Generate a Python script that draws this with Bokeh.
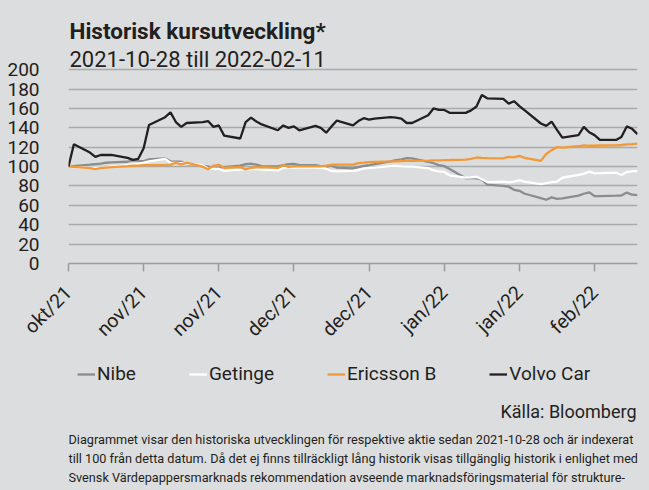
import math
import pandas as pd
from bokeh.plotting import figure
from bokeh.layouts import column
from bokeh.models import (ColumnDataSource, Range1d, FixedTicker, Label,
                          Legend, LegendItem)
from bokeh.embed import file_html
from bokeh.resources import INLINE

# ---------------- data ----------------
dates = pd.bdate_range("2021-10-28", "2022-02-11")  # 77 trading days

nibe = [100, 100.5, 102, 102.6, 103, 104, 104.3, 105, 106.5, 106,
        105.7, 107.5, 108.4, 105.5, 105, 105, 102.5, 101, 100, 97.5,
        99, 99.5, 101, 102.5, 103, 102, 100.5, 100.2, 101.5, 102.5,
        102.8, 101.5, 101.5, 100.5, 100, 100.9, 98.9, 98.2, 99.5, 100.8,
        101.6, 102.5, 105.5, 106.7, 107.5, 108.8, 108.4, 105, 103.5, 101.5,
        100.5, 97.5, 88, 88.5, 88, 86.5, 81.5, 80.2, 79.3, 76,
        75, 72, 67.5, 65.8, 68.2, 66.8, 67.2, 70.1, 72, 73.5,
        69.5, 69.5, 70, 70.2, 73.2, 71, 70.5]

getinge = [100, 99.5, 98.8, 98.8, 99, 99.5, 100.3, 101.5, 102.2, 103,
           104, 105.5, 108, 104, 103.8, 103.5, 103, 101.5, 98, 97.5,
           97.8, 95.5, 96.8, 97.5, 97.8, 97.3, 96.8, 96.1, 98.5, 99.5,
           98.8, 99.3, 99, 98.8, 97.8, 95.5, 95, 95.5, 96.5, 98,
           98.8, 99, 100.5, 100.6, 100.2, 100, 100, 98.5, 96, 95,
           94.5, 91, 88.7, 89, 89.5, 87, 84, 84.6, 83.8, 84.5,
           86, 84.5, 82, 83, 84, 84.6, 88.5, 91.4, 92.5, 94.8,
           93, 93.2, 93.8, 91.4, 94.5, 95, 95.5]

ericsson = [100, 99.8, 98.5, 97.3, 98.5, 99, 99.5, 100.5, 101, 101,
            101.5, 101.5, 101.5, 102, 104, 102.3, 104, 100, 97.3, 101,
            101.8, 98.8, 99.5, 97.2, 98.8, 99.2, 99.5, 98.6, 101.5, 99.8,
            100.2, 100.2, 100.2, 100.3, 101, 101.9, 102, 102, 103.5, 104,
            104.6, 104.8, 105.3, 105.5, 105.8, 106, 106, 106.2, 106.4, 106.5,
            106.7, 106.8, 107.3, 108, 109.4, 109, 108.8, 108.5, 110, 109.5,
            111, 109, 106, 113, 117, 120, 119.5, 121, 122, 121.5,
            121.5, 121.8, 122, 122.3, 123, 123.3, 123.8]

volvo = [100, 123, 114.5, 110, 112, 112, 112, 109, 107, 108,
         119, 143, 151, 156, 146, 141, 145, 146, 147, 141,
         142.5, 132, 129, 146, 150.5, 146.5, 143.5, 137.5, 142.5, 140,
         141.5, 137.5, 142, 140, 135, 141.5, 147.5, 142.5, 147, 150,
         148.5, 149.5, 151, 150.5, 149.5, 145, 145, 153, 160, 158.5,
         158.5, 155.5, 155.5, 158, 162, 174, 170.5, 170, 165, 167.5,
         162.5, 158, 144.5, 142, 146.5, 138, 130, 132.5, 141, 135.5,
         132.5, 127.5, 127.5, 130.5, 141.5, 139, 133.5]

series_keys = ["nibe", "getinge", "ericsson", "volvo"]
series_names = ["Nibe", "Getinge", "Ericsson B", "Volvo Car"]
series_colors = ["#8b8c8e", "#ffffff", "#f29a36", "#231f20"]

tick_dates = pd.date_range("2021-10-28", periods=8, freq="14D")
tick_labels = ["okt/21", "nov/21", "nov/21", "dec/21", "dec/21",
               "jan/22", "jan/22", "feb/22"]
y_ticks = [0, 20, 40, 60, 80, 100, 120, 140, 160, 180, 200]

title_text = "Historisk kursutveckling*"
subtitle_text = "2021-10-28 till 2022-02-11"
source_text = "Källa: Bloomberg"
footnote_lines = [
    "Diagrammet visar den historiska utvecklingen för respektive aktie sedan 2021-10-28 och är indexerat",
    "till 100 från detta datum. Då det ej finns tillräckligt lång historik visas tillgänglig historik i enlighet med",
    "Svensk Värdepappersmarknads rekommendation avseende marknadsföringsmaterial för strukture-",
    "rade placeringar. Historisk utveckling innebär ingen garanti för framtida avkastning.",
]

# ---------------- styling ----------------
BG = "#dcdddf"
TXT = "#231f20"
GRID = "#a9aaac"
FONT = "Roboto"
W = 649
H_MAIN, H_FOOT = 352, 138
FRAME_BOTTOM = 266          # pixel row of the value 0
Y_TOP_ROW = 70              # pixel row of the value 200
y_max = 200 * FRAME_BOTTOM / (FRAME_BOTTOM - Y_TOP_ROW)   # room above for the titles


def add_text(f, x, y, text, **kw):
    f.add_layout(Label(x=x, y=y, x_units="canvas", y_units="canvas", text=text,
                       text_color=TXT, text_baseline="alphabetic", **kw))


src = ColumnDataSource(dict(date=dates, nibe=nibe, getinge=getinge,
                            ericsson=ericsson, volvo=volvo))

# ---------------- main chart ----------------
p = figure(width=W, height=H_MAIN, x_axis_type="datetime",
           x_range=Range1d(dates[0], dates[-1]), y_range=Range1d(0, y_max),
           output_backend="svg", toolbar_location=None, title=None,
           min_border_left=68, min_border_right=12,
           min_border_top=0, min_border_bottom=H_MAIN - FRAME_BOTTOM)
p.background_fill_color = BG
p.border_fill_color = BG
p.outline_line_color = None

p.xgrid.visible = False
p.ygrid.grid_line_color = GRID
p.ygrid.grid_line_width = 1.5

p.yaxis.ticker = FixedTicker(ticks=y_ticks)
p.yaxis.axis_line_color = None
p.yaxis.major_tick_line_color = None
p.yaxis.minor_tick_line_color = None
p.yaxis.major_label_standoff = 23
p.yaxis.major_label_text_font = FONT
p.yaxis.major_label_text_font_size = "19px"
p.yaxis.major_label_text_color = TXT

tick_ms = [t.value / 1e6 for t in tick_dates]
p.xaxis.ticker = FixedTicker(ticks=tick_ms)
p.xaxis.major_label_overrides = {ms: lab for ms, lab in zip(tick_ms, tick_labels)}
p.xaxis.major_label_orientation = math.pi / 4
p.xaxis.axis_line_color = "#9c9d9f"
p.xaxis.axis_line_width = 1.5
p.xaxis.major_tick_line_color = "#9c9d9f"
p.xaxis.major_tick_line_width = 1.5
p.xaxis.major_tick_out = 8
p.xaxis.major_tick_in = 0
p.xaxis.minor_tick_line_color = None
p.xaxis.major_label_standoff = 18
p.xaxis.major_label_text_font = FONT
p.xaxis.major_label_text_font_size = "19.5px"
p.xaxis.major_label_text_color = TXT

for key, color in zip(series_keys, series_colors):
    p.line("date", key, source=src, line_color=color, line_width=2.3)

add_text(p, 69, 30, title_text, text_font=FONT, text_font_style="bold",
         text_font_size="22.5px")
add_text(p, 69, 59, subtitle_text, text_font=FONT, text_font_size="22px")

# ---------------- footer (legend, source, footnote) ----------------
foot = figure(width=W, height=H_FOOT, x_range=Range1d(0, 1), y_range=Range1d(0, 1),
              output_backend="svg", toolbar_location=None, title=None,
              x_axis_location=None, y_axis_location=None,
              min_border=0, min_border_left=0, min_border_right=0,
              min_border_top=0, min_border_bottom=0)
foot.background_fill_color = BG
foot.border_fill_color = BG
foot.outline_line_color = None
foot.grid.visible = False

# legend keys: the same series, drawn outside this panel's visible range
items = []
for key, name, color in zip(series_keys, series_names, series_colors):
    r = foot.line("date", key, source=src, line_color=color, line_width=2.3)
    items.append(LegendItem(label=name, renderers=[r]))
legend = Legend(items=items, orientation="horizontal", location=(9, 105),
                padding=0, margin=0, spacing=53, label_standoff=2,
                glyph_width=18, glyph_height=20, label_height=20,
                background_fill_alpha=0, border_line_color=None,
                label_text_font=FONT, label_text_font_size="19px",
                label_text_color=TXT)
foot.add_layout(legend)

add_text(foot, 636, 411 - H_MAIN, source_text, text_font=FONT, text_align="right",
         text_font_size="18px")
for i, line in enumerate(footnote_lines):
    add_text(foot, 68, 439 - H_MAIN + 19 * i, line, text_font=FONT,
             text_font_size="12.7px")

layout = column(p, foot, spacing=0)

html = file_html(layout, INLINE)
html = html.replace("<head>", "<head><style>html,body{background:%s;}</style>" % BG, 1)
open("out.html", "w").write(html)
